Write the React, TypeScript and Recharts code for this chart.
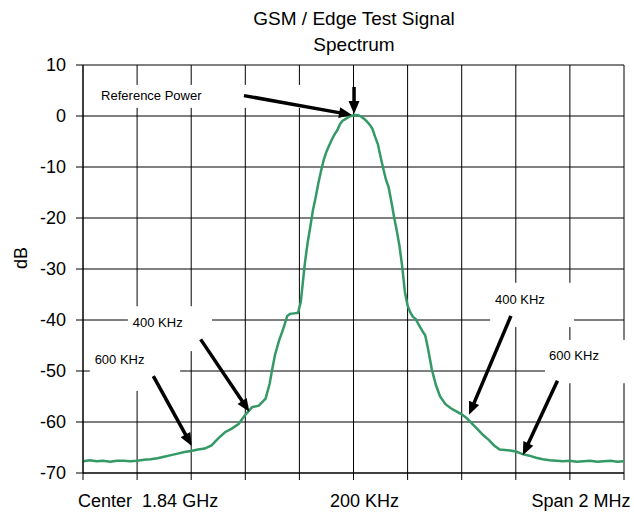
import { CartesianGrid, Label, Line, LineChart, XAxis, YAxis } from "recharts"

// offset from the centre frequency, kHz (one grid division = 200 kHz)
const freqKHz = [
  -1000, -975, -950, -925, -900, -875, -850, -825, -800, -775, -750, -725, -700, -675, -650, -625,
  -600, -575, -550, -525, -500, -475, -450, -425, -400, -375, -350, -325, -310, -300, -290, -275,
  -260, -245, -235, -220, -205, -195, -187, -180, -170, -160, -150, -140, -130, -120, -110, -100,
  -90, -80, -70, -60, -50, -40, -30, -20, -10, 0, 10, 20, 30, 40, 50, 60, 70, 80, 90, 100, 110,
  120, 130, 140, 150, 160, 170, 180, 190, 200, 210, 220, 230, 240, 255, 265, 275, 290, 305, 320,
  340, 360, 380, 400, 420, 440, 460, 480, 500, 520, 540, 560, 580, 600, 625, 650, 675, 700, 725,
  750, 775, 800, 825, 850, 875, 900, 925, 950, 975, 1000,
]

const levelDb = [
  -67.7, -67.5, -67.7, -67.6, -67.8, -67.6, -67.6, -67.7, -67.6, -67.4, -67.3, -67.1, -66.8, -66.5, -66.2, -65.9,
  -65.7, -65.4, -65.2, -64.6, -63.2, -62.0, -61.3, -60.4, -58.6, -57.1, -56.8, -55.4, -52.5, -49.5, -46.8, -44.0,
  -41.8, -39.2, -38.8, -38.7, -38.6, -36.5, -32.5, -29.0, -25.0, -21.8, -18.5, -16.0, -13.2, -10.8, -8.6, -7.0,
  -5.8, -4.6, -3.6, -2.8, -1.6, -0.9, -0.6, -0.3, 0.0, 0.1, 0.2, 0.1, -0.2, -0.6, -1.1, -1.7, -2.5, -4.1, -5.5, -8.0, -10.3,
  -12.5, -14.0, -16.8, -19.8, -22.5, -25.5, -29.5, -34.5, -37.2, -38.5, -39.4, -39.8, -40.8, -42.2, -43.0, -45.5, -49.8, -52.8, -55.0,
  -56.5, -57.3, -57.9, -58.5, -59.3, -60.4, -61.5, -62.6, -63.5, -64.6, -65.4, -65.5, -65.6, -65.8, -66.3, -66.6, -67.0, -67.3, -67.5,
  -67.6, -67.7, -67.6, -67.8, -67.7, -67.6, -67.8, -67.7, -67.6, -67.8, -67.7,
]

const xTicks = [-1000, -800, -600, -400, -200, 0, 200, 400, 600, 800, 1000]
const yTicks = [-70, -60, -50, -40, -30, -20, -10, 0, 10]
const xLabelAt = [-800, 0, 800]
const xLabelText = ["Center  1.84 GHz", "200 KHz", "Span 2 MHz"]

// callouts, in kHz / dB
const noteText = ["Reference Power", "400 KHz", "600 KHz", "400 KHz", "600 KHz"]
const noteAt = [[-933, 4.0], [-816, -40.5], [-957, -47.8], [523, -35.9], [723, -46.9]]
const noteBox = [
  [-967, 6.1, -50, 1.6],
  [-834, -37.3, -523, -46.1],
  [-975, -44.7, -641, -53.9],
  [505, -32.7, 815, -41.4],
  [708, -43.9, 1022, -52.4],
]
const arrows = [
  [[-405, 4.0], [-5.5, 0.2]],
  [[2, 5.7], [2, 0.4]],
  [[-565, -43.8], [-385, -58.0]],
  [[-740, -51.0], [-598, -64.7]],
  [[582, -39.2], [427, -58.6]],
  [[754, -51.9], [626, -66.5]],
]

const data = freqKHz.map((f, i) => ({ freq: f, level: levelDb[i] }))

const W = 634
const H = 518
const PLOT = { left: 83, right: 624, top: 65, bottom: 473 }
const FONT = '"Liberation Sans", Arial, sans-serif'

const sx = (k: number) => PLOT.left + ((k + 1000) / 2000) * (PLOT.right - PLOT.left)
const sy = (d: number) => PLOT.top + ((10 - d) / 80) * (PLOT.bottom - PLOT.top)

function XTick(props: any) {
  const { x, y, payload } = props
  const idx = xLabelAt.indexOf(payload.value)
  if (idx < 0) return <g />
  return (
    <text x={x + 11} y={y} dy="0.71em" textAnchor="middle" fontSize={18} fill="#000" style={{ whiteSpace: "pre" }}>
      {xLabelText[idx]}
    </text>
  )
}

function Arrow({ from, to }: { from: number[]; to: number[] }) {
  const x1 = sx(from[0])
  const y1 = sy(from[1])
  const x2 = sx(to[0])
  const y2 = sy(to[1])
  const len = Math.hypot(x2 - x1, y2 - y1)
  const ux = (x2 - x1) / len
  const uy = (y2 - y1) / len
  const hl = 13
  const hw = 5.5
  const bx = x2 - ux * hl
  const by = y2 - uy * hl
  return (
    <g>
      <line x1={x1} y1={y1} x2={bx + ux} y2={by + uy} stroke="#000" strokeWidth={3.5} />
      <polygon
        points={`${x2},${y2} ${bx - uy * hw},${by + ux * hw} ${bx + uy * hw},${by - ux * hw}`}
        fill="#000"
      />
    </g>
  )
}

export default function App() {
  return (
    <div style={{ position: "absolute", left: 0, top: 0, width: W, height: H, background: "#fff", fontFamily: FONT }}>
      <LineChart width={W} height={H} data={data} margin={{ top: PLOT.top, right: W - PLOT.right, left: 0, bottom: 0 }}>
        <CartesianGrid stroke="#000" strokeWidth={1} />
        <XAxis
          dataKey="freq"
          type="number"
          domain={[-1000, 1000]}
          ticks={xTicks}
          height={H - PLOT.bottom}
          stroke="#000"
          tickSize={7}
          tickMargin={14}
          tick={<XTick />}
          interval={0}
        />
        <YAxis
          type="number"
          domain={[-70, 10]}
          ticks={yTicks}
          width={PLOT.left}
          stroke="#000"
          tickSize={7}
          tickMargin={10}
          tick={{ fontSize: 18, fill: "#000" }}
          interval={0}
        >
          <Label value="dB" angle={-90} position="insideLeft" offset={21} style={{ fontSize: 18, fill: "#000" }} />
        </YAxis>
        <Line
          type="linear"
          dataKey="level"
          stroke="#339966"
          strokeWidth={2.5}
          dot={false}
          isAnimationActive={false}
        />
      </LineChart>
      <svg width={W} height={H} style={{ position: "absolute", left: 0, top: 0, pointerEvents: "none" }}>
        <text x={354} y={25} textAnchor="middle" fontSize={19} fill="#000">
          GSM / Edge Test Signal
        </text>
        <text x={354} y={51} textAnchor="middle" fontSize={19} fill="#000">
          Spectrum
        </text>
        {noteBox.map((b, i) => (
          <rect
            key={`box-${i}`}
            x={sx(b[0])}
            y={sy(b[1])}
            width={sx(b[2]) - sx(b[0])}
            height={sy(b[3]) - sy(b[1])}
            fill="#fff"
          />
        ))}
        {noteText.map((t, i) => (
          <text key={`note-${i}`} x={sx(noteAt[i][0])} y={sy(noteAt[i][1])} dy="0.35em" fontSize={13} fill="#000">
            {t}
          </text>
        ))}
        {arrows.map((a, i) => (
          <Arrow key={`arrow-${i}`} from={a[0]} to={a[1]} />
        ))}
      </svg>
    </div>
  )
}
